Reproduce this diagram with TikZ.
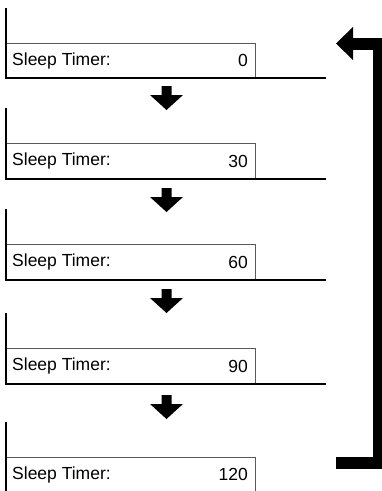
\documentclass[tikz,border=0pt]{standalone}
\usepackage{fontspec}
\setmainfont{Liberation Sans}
\usepackage{tikz}
\usetikzlibrary{positioning,calc}
\tikzset{
  lbl/.style   ={font=\fontsize{17.5}{20}\selectfont,inner sep=0pt,anchor=west},
  val/.style   ={font=\fontsize{17.5}{20}\selectfont,inner sep=0pt,anchor=east},
  frame/.style ={draw=black!65,line width=1pt},
  edge/.style  ={draw=black,line width=2.8pt},
  blkarr/.style={fill=black,draw=none},
  back/.style  ={draw=black,line width=12pt},
}
\begin{document}
\begin{tikzpicture}[x=1pt, y=-1pt]
\useasboundingbox (0,0) rectangle (381,491);

% ---- panels --------------------------------------------------------------
% {n}/{top}/{box top}/{bottom}/{value}
\foreach \n/\t/\b/\u/\v in {1/8/43/78/0, 2/108/143/179/30, 3/209/244/280/60,
                            4/313/348/384/90, 5/422/457/492/120}{%
  \pgfmathsetmacro\m{(\b+\u)/2}
  \draw[frame] (6,\b) -- (255,\b) -- (255,\u);
  \draw[edge] (6,\t) -- (6,\u) -- (326,\u);
  \node[lbl] (lab\n) at (12,\m) {Sleep Timer:};
  \node[val] (val\n) at (248,\m) {\v};
}

% ---- block arrows between panels -----------------------------------------
\foreach \tip in {110,212,313,419}{%
  \fill[blkarr] (161.5,\tip-24) -- (171.5,\tip-24) -- (171.5,\tip-15)
    -- (183,\tip-15) -- (166.5,\tip) -- (150,\tip-15) -- (161.5,\tip-15) -- cycle;
}

% ---- loop back to the top ------------------------------------------------
\coordinate (bk0) at (336,462.5);
\coordinate (bk1) at (379,462.5);
\coordinate (bk2) at (379,43.5);
\coordinate (bk3) at (351,43.5);
\draw[back] (bk0) -- (bk1) -- (bk2) -- (bk3);
\fill[blkarr] (353,27) -- (336,43.5) -- (353,60) -- cycle;
\end{tikzpicture}
\end{document}
